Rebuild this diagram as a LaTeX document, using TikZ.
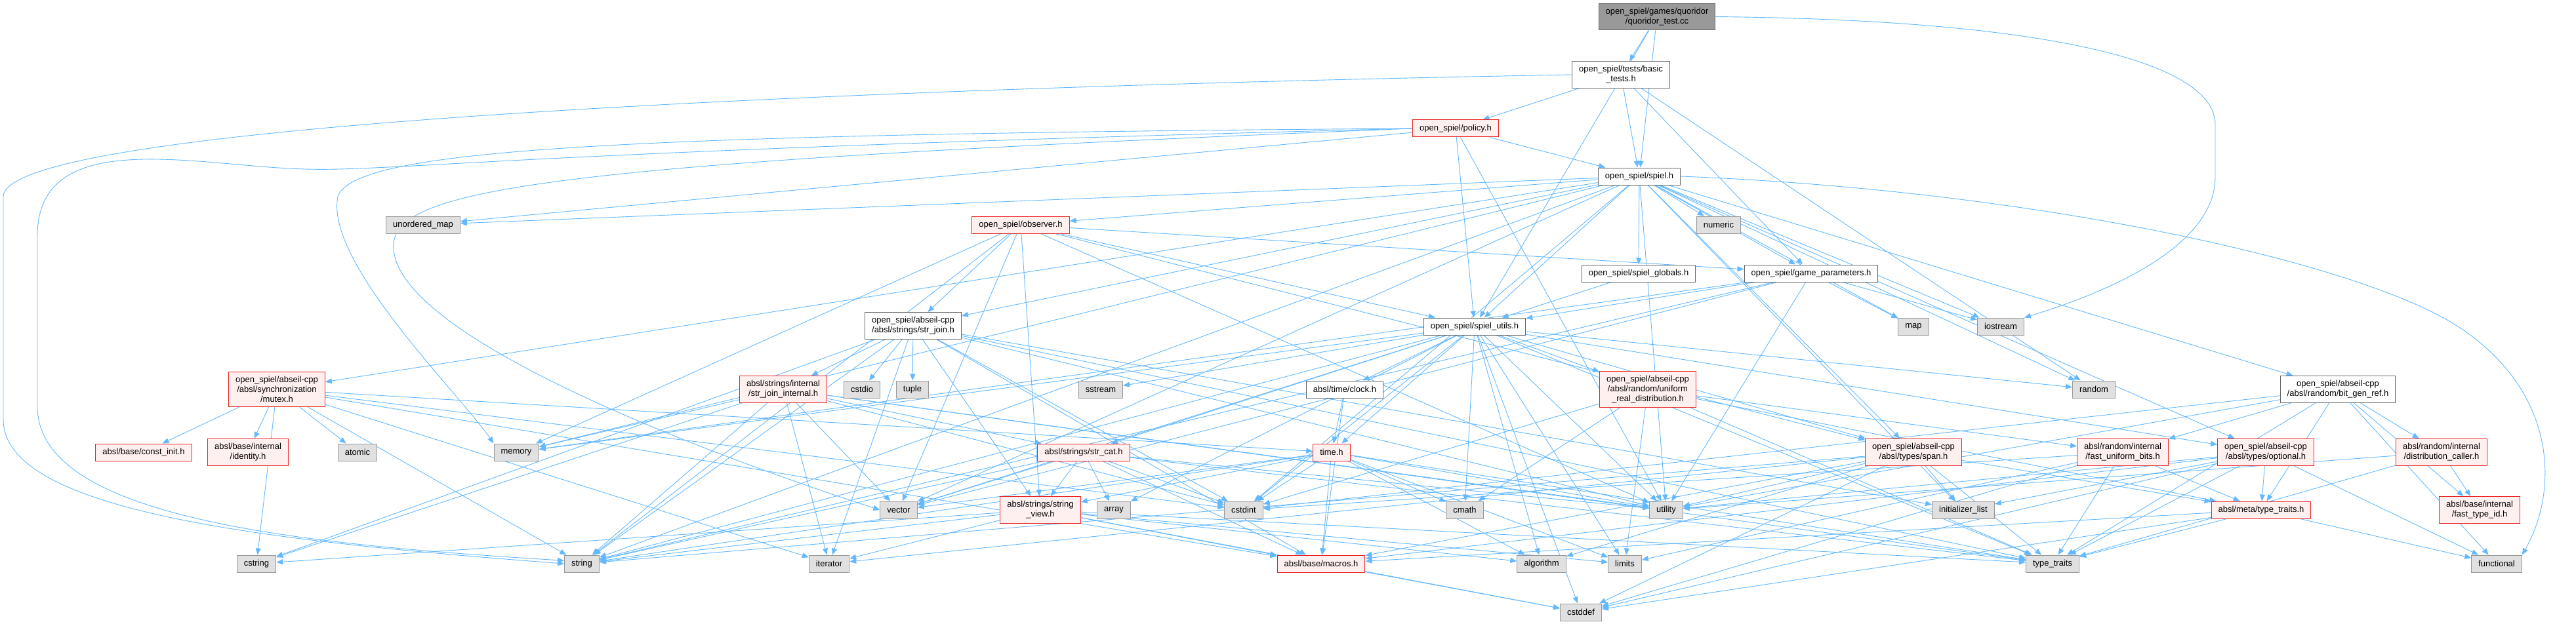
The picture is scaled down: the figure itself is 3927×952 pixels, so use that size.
\documentclass[tikz,border=0pt]{standalone}
\usepackage{fontspec}
\setmainfont{Liberation Sans}
\usetikzlibrary{arrows.meta}
\definecolor{edgeblue}{RGB}{99,184,255}
\definecolor{filegray}{RGB}{102,102,102}
\definecolor{redbord}{RGB}{235,35,35}
\definecolor{redfill}{RGB}{255,240,240}
\definecolor{sysbord}{RGB}{153,153,153}
\definecolor{sysfill}{RGB}{224,224,224}
\definecolor{mainfill}{RGB}{153,153,153}
\pgfdeclarelayer{background}
\pgfsetlayers{background,main}
\begin{document}
\begin{tikzpicture}[x=1pt, y=-1pt,
    mybox/.style={draw, line width=1pt, inner xsep=10.5pt, inner ysep=6.9pt, minimum height=26pt, align=center, font=\fontsize{13}{15}\selectfont},
    myfile/.style={mybox, draw=filegray, fill=white},
    myred/.style={mybox, draw=redbord, fill=redfill},
    mysys/.style={mybox, draw=sysbord, fill=sysfill},
    mymain/.style={mybox, draw=filegray, fill=mainfill},
    myedge/.style={-{Triangle[length=10pt,width=8pt]}, edgeblue, line width=0.9pt}
]
    \useasboundingbox (0,0) rectangle (3927,952);

    % Top rows
    \node[mymain] (qt) at (2526,25.5) {open\_spiel/games/quoridor\\/quoridor\_test.cc};
    \node[myfile] (bt) at (2471,114) {open\_spiel/tests/basic\\\_tests.h};
    \node[myred] (pol) at (2219,196) {open\_spiel/policy.h};
    \node[myfile] (sp) at (2499,269) {open\_spiel/spiel.h};
    \node[mysys] (umap) at (645,343) {unordered\_map};
    \node[myred] (obs) at (1556,343) {open\_spiel/observer.h};
    \node[mysys] (num) at (2620,343) {numeric};
    \node[myfile] (glob) at (2498,417) {open\_spiel/spiel\_globals.h};
    \node[myfile] (gp) at (2761,417) {open\_spiel/game\_parameters.h};
    \node[myfile] (sjoin) at (1392,497) {open\_spiel/abseil-cpp\\/absl/strings/str\_join.h};
    \node[myfile] (su) at (2248,498) {open\_spiel/spiel\_utils.h};
    \node[mysys] (map) at (2917,498) {map};
    \node[mysys] (ios) at (3050,498) {iostream};

    % Middle rows
    \node[myred] (mutex) at (422,594) {open\_spiel/abseil-cpp\\/absl/synchronization\\/mutex.h};
    \node[myred] (sji) at (1194,594) {absl/strings/internal\\/str\_join\_internal.h};
    \node[mysys] (cstdio) at (1314,594) {cstdio};
    \node[mysys] (tuple) at (1391,594) {tuple};
    \node[mysys] (sstream) at (1678,594) {sstream};
    \node[myfile] (clock) at (2050,594) {absl/time/clock.h};
    \node[myred] (urd) at (2512,594) {open\_spiel/abseil-cpp\\/absl/random/uniform\\\_real\_distribution.h};
    \node[mysys] (random) at (3192,594) {random};
    \node[myfile] (bgr) at (3564,594) {open\_spiel/abseil-cpp\\/absl/random/bit\_gen\_ref.h};

    \node[myred] (cinit) at (219,690) {absl/base/const\_init.h};
    \node[myred] (ident) at (378,690) {absl/base/internal\\/identity.h};
    \node[mysys] (atomic) at (545,690) {atomic};
    \node[mysys] (memory) at (787,690) {memory};
    \node[myred] (scat) at (1652,690) {absl/strings/str\_cat.h};
    \node[myred] (timeh) at (2030,690) {time.h};
    \node[myred] (span) at (2917,690) {open\_spiel/abseil-cpp\\/absl/types/span.h};
    \node[myred] (fub) at (3236,690) {absl/random/internal\\/fast\_uniform\_bits.h};
    \node[myred] (opt) at (3454,690) {open\_spiel/abseil-cpp\\/absl/types/optional.h};
    \node[myred] (dcall) at (3722,690) {absl/random/internal\\/distribution\_caller.h};

    % Bottom rows
    \node[mysys] (vector) at (1370,778) {vector};
    \node[myred] (sview) at (1586,778) {absl/strings/string\\\_view.h};
    \node[mysys] (array) at (1698,778) {array};
    \node[mysys] (cstdint) at (1896,778) {cstdint};
    \node[mysys] (cmath) at (2233,778) {cmath};
    \node[mysys] (utility) at (2540,778) {utility};
    \node[mysys] (ilist) at (2993,778) {initializer\_list};
    \node[myred] (mtt) at (3447,778) {absl/meta/type\_traits.h};
    \node[myred] (ftid) at (3780,778) {absl/base/internal\\/fast\_type\_id.h};

    \node[mysys] (cstring) at (391,860) {cstring};
    \node[mysys] (string) at (887,860) {string};
    \node[mysys] (iterator) at (1264,860) {iterator};
    \node[myred] (macros) at (2014,860) {absl/base/macros.h};
    \node[mysys] (algorithm) at (2350,860) {algorithm};
    \node[mysys] (limits) at (2477,860) {limits};
    \node[mysys] (ttraits) at (3129,860) {type\_traits};
    \node[mysys] (functional) at (3806,860) {functional};
    \node[mysys] (cstddef) at (2410,934) {cstddef};

    \begin{pgfonlayer}{background}
    % Includes
    \foreach \t in {bt,sp,su} \draw[myedge] (qt) -- (\t);
    \foreach \t in {pol,sp,gp,random} \draw[myedge] (bt) -- (\t);
    \foreach \t in {sp,su,utility,umap} \draw[myedge] (pol) -- (\t);
    \foreach \t in {umap,obs,num,glob,gp,su,sjoin,mutex,bgr,span,opt,memory,string,vector,utility,cstdint,random,map,ios,ilist}
        \draw[myedge] (sp) -- (\t);
    \foreach \t in {sjoin,su,gp,span,sview,memory,string,vector,utility} \draw[myedge] (obs) -- (\t);
    \draw[myedge] (glob) -- (su);
    \foreach \t in {su,map,ios,string,utility,vector,memory} \draw[myedge] (gp) -- (\t);
    \foreach \t in {sji,cstdio,tuple,sview,string,iterator,utility,ttraits,ilist,cstring,macros,cstdint}
        \draw[myedge] (sjoin) -- (\t);
    \foreach \t in {scat,clock,urd,span,opt,cstddef,cstdint,algorithm,array,cmath,sstream,string,utility,vector,random,memory,ttraits,timeh,limits}
        \draw[myedge] (su) -- (\t);
    \foreach \t in {cinit,ident,atomic,cstring,string,iterator,cstdint,timeh,macros} \draw[myedge] (mutex) -- (\t);
    \foreach \t in {scat,string,iterator,memory,cstring,utility,ttraits,vector,cstdint} \draw[myedge] (sji) -- (\t);
    \foreach \t in {timeh,macros} \draw[myedge] (clock) -- (\t);
    \foreach \t in {cmath,cstdint,limits,ttraits,fub,mtt} \draw[myedge] (urd) -- (\t);
    \foreach \t in {fub,dcall,mtt,ttraits,ftid,functional,utility,cstdint} \draw[myedge] (bgr) -- (\t);
    \foreach \t in {sview,vector,array,cstdint,string,utility,macros,ttraits} \draw[myedge] (scat) -- (\t);
    \foreach \t in {sview,cstdint,cmath,utility,limits,string,macros,algorithm,ttraits,vector} \draw[myedge] (timeh) -- (\t);
    \foreach \t in {algorithm,cstddef,ilist,iterator,ttraits,utility,string,macros,mtt} \draw[myedge] (span) -- (\t);
    \foreach \t in {mtt,ttraits,limits,cstddef,cstdint} \draw[myedge] (fub) -- (\t);
    \foreach \t in {mtt,utility,functional,ilist,ttraits,cstddef,macros} \draw[myedge] (opt) -- (\t);
    \foreach \t in {ftid,utility,ttraits} \draw[myedge] (dcall) -- (\t);
    \foreach \t in {iterator,string,cstring,cstddef,algorithm,limits,macros,ttraits} \draw[myedge] (sview) -- (\t);
    \foreach \t in {ttraits,functional,cstddef,macros} \draw[myedge] (mtt) -- (\t);
    \draw[myedge] (macros) -- (cstddef);

    % Long routes round the outside
    \draw[myedge] (qt.east) .. controls (3100,30) and (3377,90) .. (3377,190)
        -- (3377,270) .. controls (3377,380) and (3200,450) .. (ios.north east);
    \draw[myedge] (bt.west) .. controls (1500,130) and (5,180) .. (5,300)
        -- (5,640) .. controls (5,780) and (400,825) .. (string.west);
    \draw[myedge] (pol.west) .. controls (800,230) and (600,262) .. (466,258)
        .. controls (300,254) and (57,190) .. (57,360) -- (57,620)
        .. controls (57,790) and (450,830) .. (string.170);
    \draw[myedge] (pol.west) .. controls (900,205) and (539,230) .. (515,300)
        .. controls (495,400) and (700,600) .. (memory.north west);
    \draw[myedge] (pol.west) .. controls (800,250) and (593,290) .. (600,380)
        .. controls (610,520) and (1100,700) .. (vector.west);
    \draw[myedge] (sp.east) .. controls (3100,290) and (3600,400) .. (3750,500)
        .. controls (3900,600) and (3900,750) .. (functional.north east);
    \end{pgfonlayer}
\end{tikzpicture}
\end{document}
